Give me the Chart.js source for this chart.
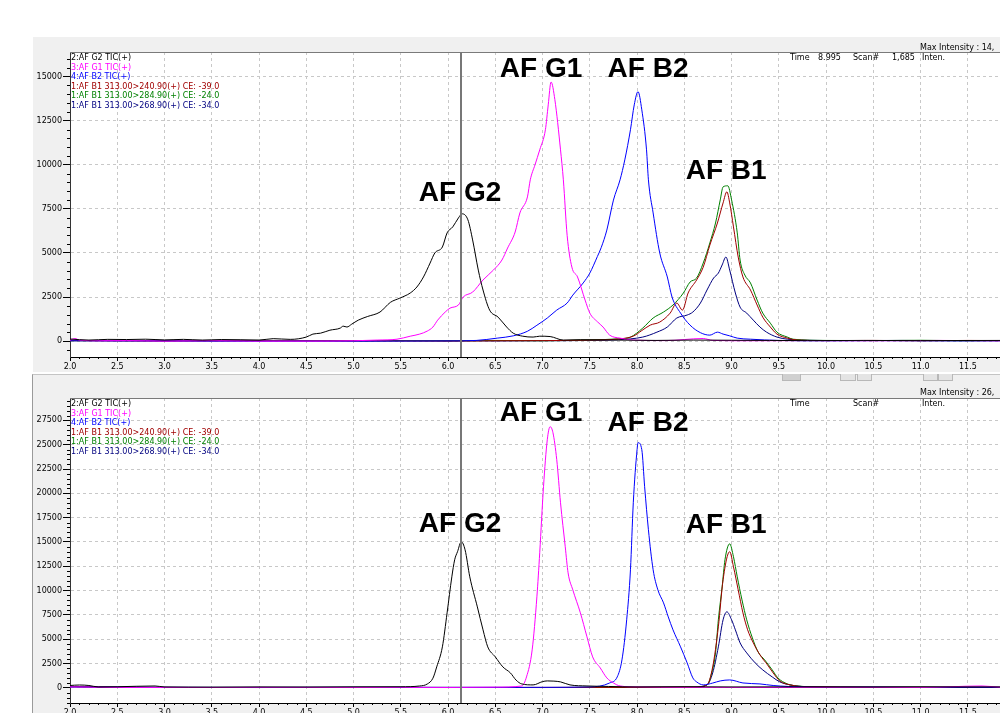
<!DOCTYPE html>
<html><head><meta charset="utf-8">
<script src="https://cdn.jsdelivr.net/npm/chart.js@4"></script>
<style>
html,body{margin:0;padding:0;background:#fff;width:1000px;height:713px;overflow:hidden;position:relative}
#p1{position:absolute;left:33px;top:37px;width:967px;height:335px;background:#f0f0f0}
#p2{position:absolute;left:32px;top:374px;width:968px;height:339px;background:#f0f0f0;border-left:1px solid #9a9a9a;border-top:1px solid #c4c4c4}
.btn{position:absolute;top:374px;height:6px;background:#e4e4e4;border:1px solid #b8b8b8;border-top:none}
canvas{position:absolute;left:0}
#c1{top:37px}
#c2{top:376px}
</style></head><body>
<div id="p1"></div><div id="p2"></div>
<div class="btn" style="left:782px;width:17px;background:#d0d0d0"></div>
<div class="btn" style="left:840px;width:14px"></div>
<div class="btn" style="left:857px;width:13px"></div>
<div class="btn" style="left:923px;width:13px"></div>
<div class="btn" style="left:938px;width:13px"></div>
<canvas id="c1" width="1000" height="335"></canvas>
<canvas id="c2" width="1000" height="350"></canvas>
<script>
// ---------- axis ----------
const X_MIN = 2.0, X_MAX = 11.84;
const xTickValues = [2.0,2.5,3.0,3.5,4.0,4.5,5.0,5.5,6.0,6.5,7.0,7.5,8.0,8.5,9.0,9.5,10.0,10.5,11.0,11.5];
const topYTickValues = [0,2500,5000,7500,10000,12500,15000];
const botYTickValues = [0,2500,5000,7500,10000,12500,15000,17500,20000,22500,25000,27500];
const topYMin = -900, topYMax = 16400;
const botYMin = -1550, botYMax = 29800;

// ---------- series names / colours ----------
const seriesNames = [
  '2:AF G2 TIC(+)',
  '3:AF G1 TIC(+)',
  '4:AF B2 TIC(+)',
  '1:AF B1 313.00>240.90(+) CE: -39.0',
  '1:AF B1 313.00>284.90(+) CE: -24.0',
  '1:AF B1 313.00>268.90(+) CE: -34.0'
];
const seriesColors = ['#000000', '#ff00ff', '#0000ff', '#a00000', '#008000', '#000080'];

// ---------- peak labels ----------
const peakNames = ['AF G2', 'AF G1', 'AF B2', 'AF B1'];
const peakLabelTime = [6.127, 6.984, 8.116, 8.942];
const topPeakLabelLevel = [8410, 15400, 15400, 9660];
const botPeakLabelLevel = [16870, 28190, 27160, 16670];
const cursorTime = 6.137;

// ---------- top panel data ----------
const topG2_t = [2.0,2.2,2.4,2.6,2.8,3.0,3.2,3.4,3.6,3.8,4.0,4.15,4.33,4.5,4.57,4.65,4.75,4.86,4.89,4.93,4.98,5.05,5.15,5.28,5.39,5.49,5.60,5.67,5.74,5.81,5.86,5.94,5.99,6.05,6.11,6.15,6.21,6.26,6.32,6.37,6.44,6.53,6.62,6.69,6.79,6.90,6.97,7.08,7.22,7.4,7.8,8.2,8.6,9.0,9.4,9.8,10.4,11.0,11.84];
const topG2_v = [120,60,100,90,110,70,100,60,90,80,60,140,100,230,400,450,620,740,850,800,960,1190,1400,1650,2200,2440,2730,3070,3640,4430,5000,5340,6140,6480,6990,7220,6880,5740,4030,2900,1760,1360,800,450,280,230,280,260,60,80,60,40,60,50,40,30,40,30,40];

const topG1_t = [2.0,2.05,2.1,2.3,2.6,3.0,3.5,4.0,4.5,5.0,5.25,5.46,5.6,5.7,5.78,5.84,5.89,5.97,6.02,6.11,6.16,6.26,6.37,6.48,6.57,6.63,6.71,6.76,6.84,6.87,6.92,6.97,7.03,7.06,7.09,7.13,7.19,7.22,7.26,7.31,7.37,7.45,7.50,7.58,7.64,7.71,7.82,7.96,8.3,8.7,8.8,9.2,9.8,10.5,11.2,11.84];
const topG1_v = [50,150,60,20,30,0,20,0,0,20,60,110,280,400,570,800,1190,1650,1870,2050,2500,2780,3470,4030,4600,5280,6190,7270,8180,9150,10000,10850,11990,13400,14700,13700,10850,9150,6000,4200,3640,2330,1590,1100,800,340,170,60,30,150,40,20,30,20,40,20];

const topB2_t = [2.0,3.0,4.0,5.0,6.0,6.3,6.52,6.69,6.84,6.94,7.05,7.15,7.26,7.32,7.43,7.50,7.58,7.62,7.68,7.75,7.82,7.87,7.93,7.97,8.01,8.05,8.10,8.12,8.17,8.24,8.32,8.37,8.46,8.56,8.67,8.77,8.85,8.91,8.98,9.06,9.2,9.5,10,10.5,11,11.84];
const topB2_v = [20,10,0,0,10,40,170,300,560,900,1310,1760,2160,2610,3300,3860,4800,5300,6300,8000,9150,10280,11990,13400,14150,13120,10850,9150,7270,5000,3640,2500,1590,910,480,340,510,400,300,170,110,40,20,30,20,20];

const topB1a_t = [2.0,2.5,3.0,3.5,4.0,4.5,5.0,5.5,6.0,6.5,7.0,7.5,7.8,7.96,8.05,8.14,8.24,8.35,8.42,8.48,8.54,8.63,8.70,8.77,8.85,8.91,8.95,8.98,9.02,9.07,9.12,9.20,9.27,9.33,9.41,9.48,9.59,9.7,10,10.5,11,11.5,11.84];
const topB1a_v = [30,20,10,30,20,10,20,10,0,20,30,60,120,280,600,910,1080,1590,2160,1760,2730,3470,4200,5450,6700,7840,8470,7840,6480,4770,3640,2900,2050,1360,800,400,170,60,30,40,20,40,30];

const topB1b_t = [2.0,2.5,3.0,3.5,4.0,4.5,5.0,5.5,6.0,6.5,7.0,7.5,7.8,7.93,8.06,8.17,8.28,8.38,8.49,8.56,8.63,8.70,8.77,8.83,8.88,8.91,8.96,9.0,9.06,9.09,9.14,9.20,9.27,9.33,9.41,9.48,9.59,9.65,10,10.5,11,11.5,11.84];
const topB1b_v = [20,30,10,20,40,10,20,30,10,40,20,70,130,230,740,1310,1650,2050,2730,3350,3580,4430,5570,6700,8010,8750,8810,8010,6140,4600,3750,3300,2330,1590,1020,510,230,110,40,30,50,20,30];

const topB1c_t = [2.0,2.5,3.0,3.5,4.0,4.5,5.0,5.5,6.0,6.5,7.0,7.5,7.8,8.06,8.21,8.32,8.42,8.53,8.59,8.67,8.74,8.81,8.86,8.90,8.94,8.98,9.04,9.09,9.16,9.23,9.30,9.37,9.48,9.59,9.8,10.2,10.8,11.4,11.84];
const topB1c_v = [40,20,30,10,20,30,10,20,30,10,20,40,80,230,510,800,1310,1480,1650,2160,2900,3580,3860,4320,4770,4030,2730,1930,1590,1190,800,510,230,110,50,30,40,20,30];

// ---------- bottom panel data ----------
const botG2_t = [2.0,2.1,2.2,2.3,2.5,2.9,3.0,3.5,4.0,4.5,5.0,5.5,5.70,5.78,5.84,5.88,5.94,5.99,6.04,6.07,6.10,6.14,6.18,6.23,6.31,6.37,6.42,6.50,6.58,6.66,6.72,6.78,6.90,7.0,7.05,7.12,7.19,7.29,7.47,7.7,8.0,8.5,9.0,9.5,10,10.5,11,11.5,11.84];
const botG2_v = [250,300,250,100,120,200,100,80,100,90,110,120,200,400,1000,2160,4220,7720,11420,13170,14000,15020,14200,11420,8330,5970,4220,3190,2160,1540,800,410,310,650,720,700,620,310,200,150,100,120,100,110,100,90,110,100,100];

const botG1_t = [2.0,2.5,3.0,3.5,4.0,4.5,5.0,5.5,6.0,6.5,6.78,6.83,6.89,6.94,6.97,7.01,7.05,7.08,7.11,7.15,7.19,7.24,7.27,7.32,7.40,7.47,7.53,7.61,7.68,7.75,7.82,8.0,8.5,9.0,9.5,10,10.5,11,11.65,11.84];
const botG1_v = [100,60,50,40,60,50,40,60,50,80,200,1130,3910,9360,13890,20680,25510,26850,26230,23460,19030,14510,11830,10080,7720,5250,3190,2060,1030,510,200,100,60,50,40,60,50,40,200,60];

const botB2_t = [2.0,3.0,4.0,5.0,6.0,7.0,7.5,7.71,7.79,7.84,7.89,7.93,7.96,8.00,8.01,8.05,8.08,8.12,8.17,8.22,8.28,8.33,8.38,8.46,8.53,8.59,8.63,8.70,8.80,8.88,8.98,9.12,9.30,9.44,9.6,10,10.5,11,11.5,11.84];
const botB2_v = [100,60,50,60,50,60,100,510,1130,2880,7000,12140,19030,24490,25210,24490,20680,16260,12140,10080,8740,7300,5970,4220,2570,1030,620,310,500,720,820,510,410,250,150,60,80,50,70,60];

const botB1a_t = [2.0,2.2,2.5,3.0,4.0,5.0,6.0,7.0,8.0,8.6,8.74,8.80,8.86,8.91,8.98,9.02,9.07,9.12,9.17,9.23,9.30,9.38,9.44,9.51,9.62,9.8,10.5,11.2,11.84];
const botB1a_v = [150,120,60,50,40,50,40,50,60,80,310,2160,6280,11110,14000,12450,10080,7720,5970,4630,3400,2370,1540,720,310,120,80,60,50];

const botB1b_t = [2.0,2.2,2.5,3.0,4.0,5.0,6.0,7.0,8.0,8.6,8.74,8.79,8.83,8.86,8.90,8.93,8.98,9.02,9.06,9.11,9.16,9.22,9.28,9.35,9.43,9.49,9.59,9.69,10,10.5,11.2,11.84];
const botB1b_v = [120,100,50,40,50,40,50,40,60,80,310,1540,3600,7000,10390,13170,14810,13480,11420,9050,7000,5140,3700,2880,1850,1030,410,200,100,80,60,50];

const botB1c_t = [2.0,2.2,2.5,3.0,4.0,5.0,6.0,7.0,8.0,8.6,8.74,8.80,8.86,8.91,8.95,9.00,9.04,9.09,9.16,9.25,9.33,9.43,9.51,9.62,9.8,10.5,11.2,11.84];
const botB1c_v = [130,100,60,50,40,60,50,40,60,80,310,1540,4220,7000,7820,7000,5970,4630,3600,2570,1850,1130,620,310,120,80,60,50];

// ---------- header texts ----------
const topHeader = {max: 'Max Intensity : 14,', time: '8.995', scan: '1,685'};
const botHeader = {max: 'Max Intensity : 26,', time: '', scan: ''};

// ---------- build ----------
const xy = (t, v) => t.map((x, i) => ({x, y: v[i]}));
function makeDatasets(list) {
  return list.map((s, i) => ({
    label: seriesNames[i],
    data: xy(s[0], s[1]),
    borderColor: seriesColors[i],
    borderWidth: 1,
    pointRadius: 0,
    cubicInterpolationMode: 'monotone',
    fill: false
  }));
}

const smallFont = '8px "DejaVu Sans"';

const panelPlugin = {
  id: 'panel',
  beforeDraw(chart) {
    const {ctx, chartArea: a} = chart;
    ctx.save();
    ctx.fillStyle = '#ffffff';
    ctx.fillRect(a.left, a.top, a.right - a.left, a.bottom - a.top);
    ctx.restore();
  },
  afterDraw(chart) {
    const cfg = chart.options.plugins.panel;
    const {ctx, chartArea: a, scales: {x, y}} = chart;
    ctx.save();
    ctx.strokeStyle = '#7a7a7a';
    ctx.lineWidth = 1;
    ctx.beginPath();
    ctx.moveTo(a.left, a.top + 0.5); ctx.lineTo(a.right, a.top + 0.5);
    ctx.stroke();
    // minor ticks
    ctx.strokeStyle = '#000';
    ctx.beginPath();
    for (let i = Math.ceil(x.min * 10); i <= Math.floor(x.max * 10); i++) {
      if (i % 5 === 0) continue;
      const px = Math.round(x.getPixelForValue(i / 10)) + 0.5;
      ctx.moveTo(px, a.bottom); ctx.lineTo(px, a.bottom + 2);
    }
    for (let v = Math.ceil(y.min / 500) * 500; v <= y.max; v += 500) {
      if (v % 2500 === 0) continue;
      const py = Math.round(y.getPixelForValue(v)) + 0.5;
      ctx.moveTo(a.left - 3, py); ctx.lineTo(a.left, py);
    }
    ctx.stroke();
    // cursor
    const cx = Math.round(x.getPixelForValue(cursorTime));
    ctx.strokeStyle = '#777777';
    ctx.lineWidth = 2;
    ctx.beginPath();
    ctx.moveTo(cx, a.top); ctx.lineTo(cx, a.bottom);
    ctx.stroke();
    // legend list
    ctx.font = smallFont;
    ctx.textBaseline = 'middle';
    ctx.textAlign = 'left';
    seriesNames.forEach((n, i) => {
      ctx.fillStyle = seriesColors[i];
      ctx.fillText(n, a.left + 1, a.top + cfg.legendTop + i * 9.6);
    });
    // header
    ctx.fillStyle = '#000';
    ctx.fillText(cfg.header.max, 920, cfg.maxY);
    ctx.fillText('Time', 790, cfg.timeY);
    ctx.fillText(cfg.header.time, 818, cfg.timeY);
    ctx.fillText('Scan#', 853, cfg.timeY);
    ctx.fillText(cfg.header.scan, 892, cfg.timeY);
    ctx.fillText('Inten.', 922, cfg.timeY);
    // peak labels
    ctx.font = 'bold 28px "Liberation Sans", Arial, sans-serif';
    ctx.textAlign = 'center';
    ctx.fillStyle = '#000';
    peakNames.forEach((n, i) => {
      ctx.fillText(n, x.getPixelForValue(peakLabelTime[i]), y.getPixelForValue(cfg.peakLevels[i]));
    });
    ctx.restore();
  }
};

function makeOptions(ymin, ymax, yTicks, padTop, xAxisH, extra) {
  const tickFont = {family: 'DejaVu Sans', size: 8};
  return {
    responsive: false, animation: false, devicePixelRatio: 1,
    layout: {padding: {top: padTop, left: 0, right: 0, bottom: 0}},
    plugins: {legend: {display: false}, tooltip: {enabled: false}, panel: extra},
    scales: {
      x: {
        type: 'linear', min: X_MIN, max: X_MAX,
        afterBuildTicks: s => { s.ticks = xTickValues.map(v => ({value: v})); },
        afterFit: s => { s.height = xAxisH; },
        ticks: {autoSkip: false, maxRotation: 0, minRotation: 0,
                padding: 1, color: '#000', font: tickFont, callback: v => Number(v).toFixed(1)},
        grid: {color: '#c8c8c8', lineWidth: 1, tickLength: 4, tickColor: '#000'},
        border: {display: true, color: '#000', width: 1, dash: [3, 3]}
      },
      y: {
        type: 'linear', min: ymin, max: ymax,
        afterBuildTicks: s => { s.ticks = yTicks.map(v => ({value: v})); },
        afterFit: s => { s.width = 70; },
        ticks: {autoSkip: false, padding: 1, color: '#000', font: tickFont,
                callback: v => String(Math.round(v))},
        grid: {color: '#c8c8c8', lineWidth: 1, tickLength: 7, tickColor: '#000'},
        border: {display: true, color: '#333', width: 1, dash: [3, 3]}
      }
    }
  };
}

new Chart(document.getElementById('c1'), {
  type: 'line',
  data: {datasets: makeDatasets([
    [topG2_t, topG2_v], [topG1_t, topG1_v], [topB2_t, topB2_v],
    [topB1a_t, topB1a_v], [topB1b_t, topB1b_v], [topB1c_t, topB1c_v]])},
  options: makeOptions(topYMin, topYMax, topYTickValues, 15, 15,
    {legendTop: 6, maxY: 11, timeY: 21, header: topHeader, peakLevels: topPeakLabelLevel}),
  plugins: [panelPlugin]
});

new Chart(document.getElementById('c2'), {
  type: 'line',
  data: {datasets: makeDatasets([
    [botG2_t, botG2_v], [botG1_t, botG1_v], [botB2_t, botB2_v],
    [botB1a_t, botB1a_v], [botB1b_t, botB1b_v], [botB1c_t, botB1c_v]])},
  options: makeOptions(botYMin, botYMax, botYTickValues, 22, 23,
    {legendTop: 6, maxY: 17, timeY: 28, header: botHeader, peakLevels: botPeakLabelLevel}),
  plugins: [panelPlugin]
});
</script>
</body></html>
